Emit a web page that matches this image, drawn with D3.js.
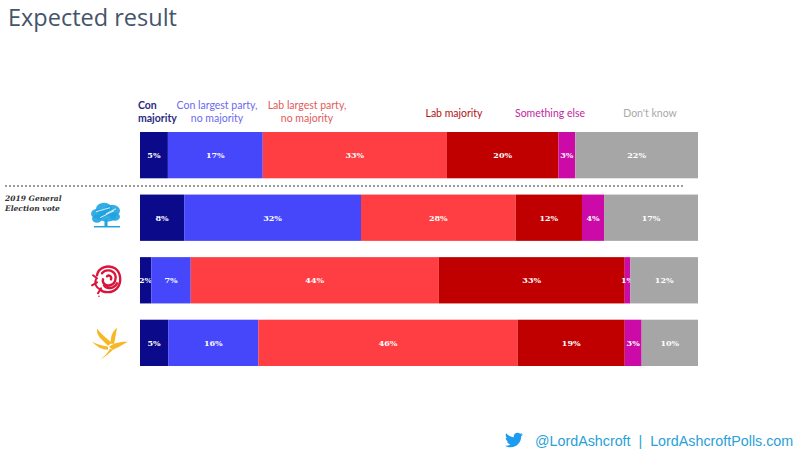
<!DOCTYPE html>
<html>
<head>
<meta charset="utf-8">
<script src="https://d3js.org/d3.v7.min.js"></script>
<style>
body { margin: 0; background: #fff; }
svg { display: block; }
</style>
</head>
<body>
<svg width="800" height="460"></svg>
<script>
// rows: overall, then by 2019 vote
const rows = ["All", "Conservative", "Labour", "Liberal Democrat"];
const categories = ["Con majority", "Con largest party, no majority", "Lab largest party, no majority", "Lab majority", "Something else", "Don't know"];
const conMajority   = [5, 8, 2, 5];
const conLargest    = [17, 32, 7, 16];
const labLargest    = [33, 28, 44, 46];
const labMajority   = [20, 12, 33, 19];
const somethingElse = [3, 4, 1, 3];
const dontKnow      = [22, 17, 12, 10];

const colors = ["#0a0a8a", "#4646fa", "#fe3e42", "#c00000", "#cc0aa8", "#a6a6a6"];
const labelColors = ["#2a2a7e", "#6a6af0", "#e25a5a", "#b31010", "#c2269e", "#a9a9a9"];

const series = [conMajority, conLargest, labLargest, labMajority, somethingElse, dontKnow];
const table = rows.map((r, i) => {
  const o = {row: r};
  categories.forEach((c, j) => o[c] = series[j][i]);
  return o;
});

const svg = d3.select("svg");

svg.append("text")
  .attr("x", 8).attr("y", 26)
  .attr("font-family", "Open Sans")
  .attr("font-size", 23.5)
  .attr("fill", "#44546a")
  .text("Expected result");

const stack = d3.stack().keys(categories).offset(d3.stackOffsetExpand);
const layers = stack(table);

const x = d3.scaleLinear().domain([0, 1]).range([140, 698]);
const y = d3.scaleBand().domain(rows).range([132, 366]).paddingInner(0.26);

const g = svg.append("g");
layers.forEach((layer, j) => {
  const lg = g.append("g");
  lg.selectAll("rect").data(layer).join("rect")
    .attr("x", d => x(d[0]))
    .attr("y", d => y(d.data.row))
    .attr("width", d => x(d[1]) - x(d[0]))
    .attr("height", y.bandwidth())
    .attr("fill", colors[j]);
  lg.selectAll("text").data(layer).join("text")
    .attr("x", d => (x(d[0]) + x(d[1])) / 2)
    .attr("y", d => y(d.data.row) + y.bandwidth() / 2 + 3)
    .attr("text-anchor", "middle")
    .attr("font-family", "DejaVu Serif")
    .attr("font-weight", "bold")
    .attr("font-size", 8)
    .attr("fill", "#fff")
    .text(d => d.data[categories[j]] + "%");
});

// legend labels above the first bar
const legendLines = [["Con", "majority"], ["Con largest party,", "no majority"], ["Lab largest party,", "no majority"], ["Lab majority"], ["Something else"], ["Don't know"]];
const legendPos = [[138, "start"], [217, "middle"], [307, "middle"], [454, "middle"], [550, "middle"], [650, "middle"]];
legendLines.forEach((lines, j) => {
  const t = svg.append("text")
    .attr("font-family", "Lato")
    .attr("font-size", 10.5)
    .attr("font-weight", j === 0 ? "bold" : "normal")
    .attr("fill", labelColors[j])
    .attr("text-anchor", legendPos[j][1]);
  lines.forEach((ln, k) => {
    t.append("tspan")
      .attr("x", legendPos[j][0])
      .attr("y", lines.length === 1 ? 117 : 109 + k * 13)
      .text(ln);
  });
});

// separator
svg.append("line")
  .attr("x1", 5).attr("x2", 684)
  .attr("y1", 186).attr("y2", 186)
  .attr("stroke", "#9a9a9a")
  .attr("stroke-width", 2)
  .attr("stroke-dasharray", "2,2");

const side = svg.append("text")
  .attr("font-family", "DejaVu Serif")
  .attr("font-style", "italic")
  .attr("font-weight", "bold")
  .attr("font-size", 7.5)
  .attr("fill", "#333");
side.append("tspan").attr("x", 5).attr("y", 201).text("2019 General");
side.append("tspan").attr("x", 5).attr("y", 211).text("Election vote");

// party logos
const cy = r => y(r) + y.bandwidth() / 2;

// conservative tree
const tree = svg.append("g").attr("transform", "translate(106," + (cy("Conservative") - 4) + ")");
[[-8, 0, 7, 5], [-2, -5, 8, 6], [6, -3, 8, 6], [9, 3, 5, 4], [-9, 5, 5, 4], [1, 3, 9, 5]].forEach(e => {
  tree.append("ellipse").attr("cx", e[0]).attr("cy", e[1]).attr("rx", e[2]).attr("ry", e[3])
    .attr("fill", "#1fa3e0").attr("opacity", 0.9);
});
tree.append("rect").attr("x", -1.5).attr("y", 6).attr("width", 3).attr("height", 7).attr("fill", "#1fa3e0");
tree.append("line").attr("x1", -12).attr("x2", 14).attr("y1", 13).attr("y2", 13).attr("stroke", "#1fa3e0").attr("stroke-width", 1.5);
[[-10, -2, 4, -6], [-6, 4, 8, -3], [0, 0, 10, -5]].forEach(l => {
  tree.append("line").attr("x1", l[0]).attr("y1", l[1]).attr("x2", l[2]).attr("y2", l[3])
    .attr("stroke", "#fff").attr("stroke-width", 0.8);
});

// labour rose
const rose = svg.append("g").attr("transform", "translate(108," + (cy("Labour") - 1) + ")");
rose.append("path")
  .attr("d", "M-11,-4 C-10,-12 0,-15 7,-11 C13,-7 14,3 9,9 C4,14 -4,14 -8,10 M-6,-6 C-3,-10 4,-10 7,-5 C9,-1 7,5 2,6 C-3,7 -6,3 -5,0 M-1,-3 C1,-5 4,-3 3,0 M-4,6 C-2,10 6,10 9,4")
  .attr("fill", "none").attr("stroke", "#d9153b").attr("stroke-width", 2.4).attr("stroke-linecap", "round");
rose.append("path").attr("d", "M-11,-1 L-15,-4 M-11,3 L-16,6 M-7,9 L-10,14 M-12,0 C-14,4 -12,8 -8,10")
  .attr("stroke", "#d9153b").attr("stroke-width", 2).attr("fill", "none").attr("stroke-linecap", "round");
rose.append("circle").attr("cx", -9).attr("cy", 17).attr("r", 0.8).attr("fill", "#d9153b");

// lib dem bird
const bird = svg.append("g").attr("transform", "translate(110," + (cy("Liberal Democrat") + 1) + ")");
bird.append("path")
  .attr("d", "M-2,2 C-8,-4 -14,-8 -13,-15 C-8,-9 -3,-5 2,-1 Z M1,0 C0,-6 2,-12 7,-16 C6,-10 5,-4 4,0 Z M-1,3 C6,-2 12,-2 18,-2 C12,1 8,4 3,6 Z M-2,3 C-8,2 -14,0 -18,-2 C-13,3 -8,6 -2,6 Z M0,5 C-2,9 -6,13 -10,16 C-5,13 -1,10 3,6 Z")
  .attr("fill", "#f6b826");

// footer
const tw = svg.append("g").attr("transform", "translate(505,431) scale(0.75)");
tw.append("path")
  .attr("d", "M23.954 4.569c-.885.389-1.830.654-2.825.775 1.014-.611 1.794-1.574 2.163-2.723-.951.555-2.005.959-3.127 1.184-.896-.959-2.173-1.559-3.591-1.559-2.717 0-4.920 2.203-4.920 4.917 0 .390.045.765.127 1.124C7.691 8.094 4.066 6.130 1.640 3.161c-.427.722-.666 1.561-.666 2.475 0 1.710.870 3.213 2.188 4.096-.807-.026-1.566-.248-2.228-.616v.061c0 2.385 1.693 4.374 3.946 4.827-.413.111-.849.171-1.296.171-.314 0-.615-.030-.916-.086.631 1.953 2.445 3.377 4.604 3.417-1.680 1.319-3.809 2.105-6.102 2.105-.390 0-.779-.023-1.170-.067 2.189 1.394 4.768 2.209 7.557 2.209 9.054 0 13.999-7.496 13.999-13.986 0-.209 0-.420-.015-.630.961-.689 1.800-1.560 2.460-2.548l-.047-.020z")
  .attr("fill", "#1d9bf0");

svg.append("text")
  .attr("x", 535).attr("y", 446)
  .attr("font-family", "Liberation Sans")
  .attr("font-size", 14.3)
  .attr("fill", "#2a9fd8")
  .attr("xml:space", "preserve")
  .text("@LordAshcroft  |  LordAshcroftPolls.com");
</script>
</body>
</html>
